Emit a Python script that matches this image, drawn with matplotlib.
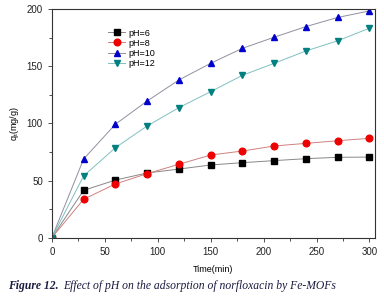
import numpy as np
from matplotlib import pyplot as plt
from matplotlib.ticker import MultipleLocator

# data
time = [0, 30, 60, 90, 120, 150, 180, 210, 240, 270, 300]
ph6 = [0, 41.4, 50.4, 56.6, 60.0, 63.6, 65.6, 67.4, 69.1, 70.3, 70.5]
ph8 = [0, 33.6, 47.0, 56.0, 64.2, 72.3, 75.8, 80.2, 82.5, 84.8, 86.9]
ph10 = [0, 68.8, 99.2, 119.5, 137.9, 152.5, 165.6, 175.3, 184.6, 192.6, 198.3]
ph12 = [0, 54.0, 78.7, 97.7, 113.7, 127.7, 142.0, 152.5, 163.3, 172.2, 183.2]

plt.rcParams['font.family'] = ['Liberation Sans', 'DejaVu Sans']

fig = plt.figure(figsize=(3.84, 2.99), dpi=100)
ax = fig.add_axes([0.135, 0.205, 0.841, 0.765])

ax.plot(time, ph6, color='#888888', lw=0.7, marker='s', ms=4.5,
        mfc='black', mec='black', label='pH=6')
ax.plot(time, ph8, color='#d08080', lw=0.7, marker='o', ms=4.8,
        mfc='#ee0000', mec='#ee0000', label='pH=8')
ax.plot(time, ph10, color='#9090a0', lw=0.7, marker='^', ms=5,
        mfc='#0000cc', mec='#0000cc', label='pH=10')
ax.plot(time, ph12, color='#80c0c0', lw=0.7, marker='v', ms=5,
        mfc='#008080', mec='#008080', label='pH=12')

ax.set_xlim(0, 305)
ax.set_ylim(0, 200)
ax.xaxis.set_major_locator(MultipleLocator(50))
ax.xaxis.set_minor_locator(MultipleLocator(25))
ax.yaxis.set_major_locator(MultipleLocator(50))
ax.yaxis.set_minor_locator(MultipleLocator(25))
ax.tick_params(which='both', direction='out', labelsize=7, width=0.6,
               color='#333333', labelcolor='#222222')
ax.tick_params(which='major', length=3)
ax.tick_params(which='minor', length=2)
for s in ax.spines.values():
    s.set_linewidth(0.8)
    s.set_color('#333333')

ax.set_xlabel('Time(min)', fontsize=6.5, labelpad=6)
ax.set_ylabel('q$_\\mathregular{t}$(mg/g)', fontsize=6.5, labelpad=4)

ax.legend(loc='upper left', bbox_to_anchor=(0.15, 0.95), frameon=False,
          fontsize=6.5, handlelength=1.8, labelspacing=0.12, handletextpad=0.4)

t1 = fig.text(0.02, 0.035, 'Figure 12.', fontsize=8.4, family='Liberation Serif',
              style='italic', weight='bold', color='#1a1a40')
fig.canvas.draw()
bb = t1.get_window_extent().transformed(fig.transFigure.inverted())
fig.text(bb.x1 + 0.012, 0.035,
         'Effect of pH on the adsorption of norfloxacin by Fe-MOFs',
         fontsize=8.4, family='Liberation Serif', style='italic', color='#1a1a40')

fig.savefig('out.png', dpi=100)
